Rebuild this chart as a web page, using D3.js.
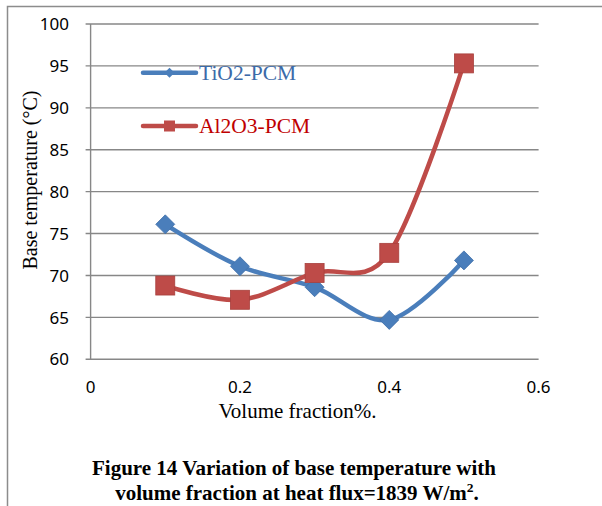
<!DOCTYPE html>
<html><head><meta charset="utf-8">
<script src="https://cdn.jsdelivr.net/npm/d3@7"></script>
<style>html,body{margin:0;padding:0;background:#fff;}svg{display:block;}</style>
</head><body>
<script>
const xValues = [0.1, 0.2, 0.3, 0.4, 0.5];
const tio2Values = [76.1, 71.1, 68.6, 64.7, 71.8];
const al2o3Values = [68.8, 67.1, 70.3, 72.7, 95.3];
const seriesNames = ["TiO2-PCM", "Al2O3-PCM"];
const xTicks = [0, 0.2, 0.4, 0.6];
const yTicks = [60, 65, 70, 75, 80, 85, 90, 95, 100];

const W = 602, H = 506;
const svg = d3.select("body").append("svg").attr("width", W).attr("height", H);
svg.append("rect").attr("width", W).attr("height", H).attr("fill", "#fff");

// frame
svg.append("path").attr("d", "M7.5,506 L7.5,6.5 L602,6.5").attr("fill", "none")
  .attr("stroke", "#8c8c8c").attr("stroke-width", 1.5);

const x = d3.scaleLinear().domain([0, 0.6]).range([90.6, 538.6]);
const y = d3.scaleLinear().domain([60, 100]).range([359.3, 24]);
const grid = "#878787";

// gridlines
svg.append("g").selectAll("line").data(yTicks).join("line")
  .attr("x1", x(0) - 5).attr("x2", x(0.6))
  .attr("y1", d => y(d)).attr("y2", d => y(d))
  .attr("stroke", grid).attr("stroke-width", 1.4);
// left axis line
svg.append("line").attr("x1", x(0)).attr("x2", x(0)).attr("y1", y(100)).attr("y2", y(60))
  .attr("stroke", grid).attr("stroke-width", 1.4);

// y tick labels
svg.append("g").selectAll("text").data(yTicks).join("text")
  .attr("x", 69).attr("y", d => y(d)).attr("dy", "0.36em")
  .attr("text-anchor", "end").attr("font-family", "'Noto Sans', sans-serif")
  .attr("font-size", 17).attr("fill", "#000").text(d => d);
// x tick labels
svg.append("g").selectAll("text").data(xTicks).join("text")
  .attr("x", d => x(d)).attr("y", 392.5)
  .attr("text-anchor", "middle").attr("font-family", "'Noto Sans', sans-serif")
  .attr("font-size", 17).attr("fill", "#000").text(d => d);

// axis titles
svg.append("text").attr("transform", "translate(37,180) rotate(-90)")
  .attr("text-anchor", "middle").attr("font-family", "'Liberation Serif', serif")
  .attr("font-size", 20).attr("fill", "#000").text("Base temperature (°C)");
svg.append("text").attr("x", 297.5).attr("y", 418)
  .attr("text-anchor", "middle").attr("font-family", "'Liberation Serif', serif")
  .attr("font-size", 21).attr("fill", "#000").text("Volume fraction%.");

// series
const blue = "#4a7ebb", red = "#be4b48";
const line = d3.line().x(d => x(d[0])).y(d => y(d[1])).curve(d3.curveCatmullRom.alpha(0));
const tio2 = xValues.map((v, i) => [v, tio2Values[i]]);
const al2o3 = xValues.map((v, i) => [v, al2o3Values[i]]);

svg.append("path").attr("d", line(tio2)).attr("fill", "none").attr("stroke", blue)
  .attr("stroke-width", 4.5).attr("stroke-linecap", "round").attr("stroke-linejoin", "round");
svg.append("path").attr("d", line(al2o3)).attr("fill", "none").attr("stroke", red)
  .attr("stroke-width", 4.5).attr("stroke-linecap", "round").attr("stroke-linejoin", "round");

const diamond = r => `M0,${-r} L${r},0 L0,${r} L${-r},0 Z`;
svg.append("g").selectAll("path").data(tio2).join("path")
  .attr("transform", d => `translate(${x(d[0])},${y(d[1])})`)
  .attr("d", diamond(9.5)).attr("fill", blue).attr("stroke", "#3f6fa8").attr("stroke-width", 0.8);
svg.append("g").selectAll("rect").data(al2o3).join("rect")
  .attr("x", d => x(d[0]) - 9.5).attr("y", d => y(d[1]) - 9.5)
  .attr("width", 19).attr("height", 19).attr("fill", red).attr("stroke", "#a8403d").attr("stroke-width", 0.8);

// legend
const legY = [72.7, 126];
const legColors = [blue, red];
const textColors = ["#3c6aa8", "#c00000"];
seriesNames.forEach((name, i) => {
  const g = svg.append("g");
  g.append("line").attr("x1", 143).attr("x2", 196).attr("y1", legY[i]).attr("y2", legY[i])
    .attr("stroke", legColors[i]).attr("stroke-width", 4.5).attr("stroke-linecap", "round");
  if (i === 0) {
    g.append("path").attr("transform", `translate(169.5,${legY[i]})`).attr("d", diamond(5)).attr("fill", blue);
  } else {
    g.append("rect").attr("x", 164).attr("y", legY[i] - 5.5).attr("width", 11).attr("height", 11).attr("fill", red);
  }
  g.append("text").attr("x", 199).attr("y", legY[i]).attr("dy", "0.34em")
    .attr("font-family", "'Liberation Serif', serif").attr("font-size", 21.5)
    .attr("fill", textColors[i]).text(name);
});

// caption
const cap = svg.append("g").attr("font-family", "'Liberation Serif', serif")
  .attr("font-weight", "bold").attr("font-size", 21).attr("fill", "#000").attr("text-anchor", "middle");
cap.append("text").attr("x", 294).attr("y", 474.5).text("Figure 14 Variation of base temperature with");
const t2 = cap.append("text").attr("x", 297).attr("y", 499.5);
t2.append("tspan").text("volume fraction at heat flux=1839 W/m");
t2.append("tspan").attr("font-size", 13.5).attr("dy", -8).text("2");
t2.append("tspan").attr("dy", 8).text(".");
</script>
</body></html>
